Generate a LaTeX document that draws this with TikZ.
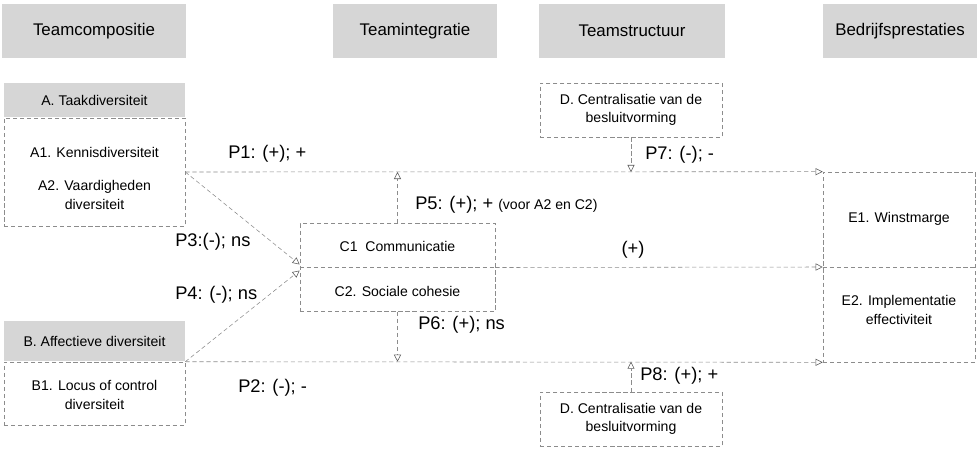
\documentclass[tikz,border=0pt]{standalone}
\usepackage{fontspec}
\setmainfont{Liberation Sans}
\usetikzlibrary{arrows.meta,calc,positioning}
\definecolor{lijn}{gray}{0.55}
\definecolor{punt}{gray}{0.35}
\definecolor{vlak}{gray}{0.84}
\tikzset{
  header/.style={fill=vlak, minimum height=1.325cm, inner sep=0pt, font=\fontsize{12}{14}\selectfont},
  subhead/.style={fill=vlak, minimum width=4.525cm, inner sep=0pt, font=\fontsize{10}{12}\selectfont},
  kader/.style={draw=lijn, densely dashed, inner sep=0pt},
  txt/.style={align=center, font=\fontsize{10}{13}\selectfont},
  lbl/.style={anchor=west, inner sep=0pt, font=\fontsize{13}{15}\selectfont},
  link/.style={draw=lijn, densely dashed, -{Triangle[open,length=5pt,width=5pt,color=punt]}}
}

\begin{document}
\begin{tikzpicture}[x=0.025cm, y=-0.025cm]
  \useasboundingbox (0,0) rectangle (980,455);
  \foreach \n/\x/\w/\t in {hcomp/94/4.575/Teamcompositie, hint/415/4.1/Teamintegratie,
                           hstr/632/4.625/Teamstructuur, hbed/900/3.85/Bedrijfsprestaties}
    \node[header, minimum width=\w cm, text width=3.55cm, align=center] (\n) at (\x,31) {\t};

  \node[subhead, minimum height=0.85cm] (agrey) at (94.5,100) {A. Taakdiversiteit};
  \node[kader, minimum width=4.525cm, minimum height=2.7cm] (abox) at (94.5,172) {};
  \node[txt] (a1) at (94.5,152) {A1. Kennisdiversiteit};
  \node[txt] (a2) at (94.5,195) {A2. Vaardigheden\\diversiteit};

  \node[subhead, minimum height=1cm] (bgrey) at (94.5,341) {B. Affectieve diversiteit};
  \node[kader, minimum width=4.525cm, minimum height=1.575cm] (bbox) at (94.5,393.5) {};
  \node[txt] (b1) at (94.5,395) {B1. Locus of control\\diversiteit};

  \node[kader, minimum width=4.875cm, minimum height=2.2cm] (cbox) at (397.5,267.5) {};
  \draw[lijn, densely dashed] (cbox.west) -- (cbox.east);
  \node[txt] (c1) at (397.5,246) {C1\ \ Communicatie};
  \node[txt] (c2) at (397.5,291) {C2. Sociale cohesie};

  \node[kader, txt, minimum width=4.55cm, minimum height=1.35cm] (dtop) at (631,110) {D. Centralisatie van de\\besluitvorming};
  \node[kader, txt, minimum width=4.55cm, minimum height=1.35cm] (dbot) at (631,419) {D. Centralisatie van de\\besluitvorming};

  \node[kader, minimum width=3.8cm, minimum height=4.75cm] (ebox) at (899,267) {};
  \draw[lijn, densely dashed] (ebox.west) -- (ebox.east);
  \node[txt] (e1) at (899,219) {E1. Winstmarge};
  \node[txt] (e2) at (899,310) {E2. Implementatie\\effectiviteit};

  \draw[link] (abox.east) -- (ebox.north west);
  \draw[link] (bbox.north east) -- (ebox.south west);
  \draw[link] (abox.east) -- ($(cbox.west)+(0,-3)$);
  \draw[link] (bbox.north east) -- ($(cbox.west)+(0,3)$);
  \draw[link] (cbox.east) -- (ebox.west);
  \draw[link] (cbox.north) -- (cbox.north |- abox.east);
  \draw[link] (cbox.south) -- (cbox.south |- bbox.north east);
  \draw[link] (dtop.south) -- (dtop.south |- abox.east);
  \draw[link] (dbot.north) -- (dbot.north |- bbox.north east);

  \node[lbl] (p1) at (228,154) {P1: (+); +};
  \node[lbl] (p2) at (238,388) {P2: (-); -};
  \node[lbl] (p3) at (175,242) {P3:(-); ns};
  \node[lbl] (p4) at (175,295) {P4: (-); ns};
  \node[lbl] (p5) at (415,205) {P5: (+); + {\fontsize{10}{12}\selectfont (voor A2 en C2)}};
  \node[lbl] (p6) at (418,325) {P6: (+); ns};
  \node[lbl] (p7) at (645,155) {P7: (-); -};
  \node[lbl] (p8) at (640,376) {P8: (+); +};
  \node[font=\fontsize{13}{15}\selectfont] (plus) at (633,250) {(+)};
\end{tikzpicture}
\end{document}
